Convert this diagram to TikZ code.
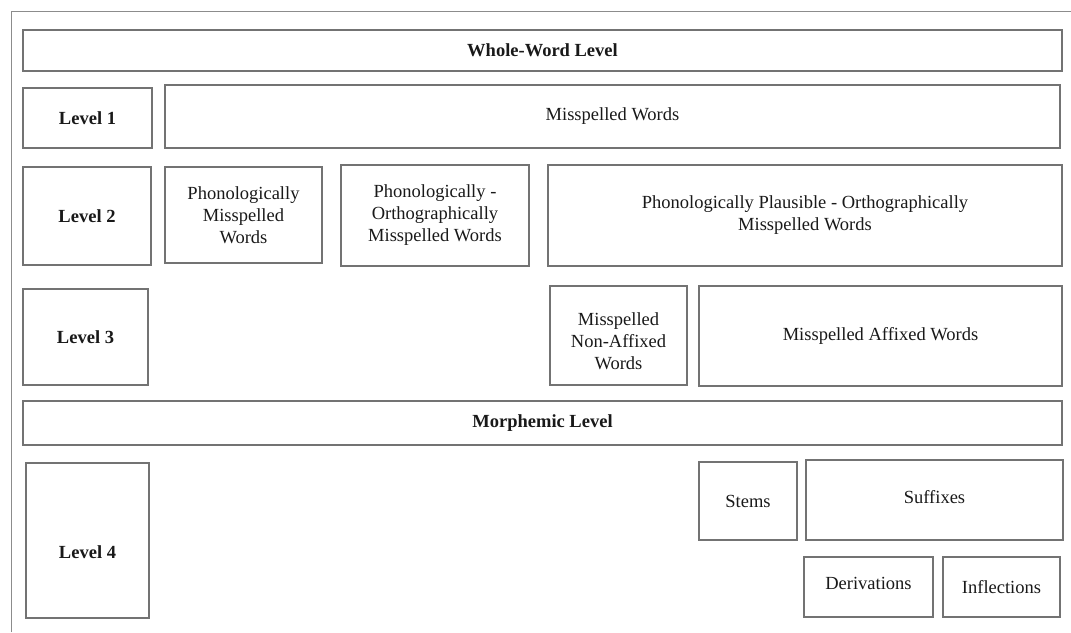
\documentclass[tikz,border=0pt]{standalone}
\usepackage{fontspec}
\setmainfont{Liberation Serif}
\begin{document}
\begin{tikzpicture}[x=1pt,y=-1pt,
  txtfont/.style={font=\fontsize{18.5}{22}\selectfont,text=black!90},
  box/.style={draw=black!55,line width=1.2pt,inner sep=0pt,align=center,txtfont},
  frame/.style={draw=black!45,line width=1pt}]
\useasboundingbox (0,0) rectangle (1071,632);
\draw[frame] (11,632) -- (11,11) -- (1071,11);
% row: whole word
\node[box,minimum width=1039,minimum height=41] (ww) at (542.5,50.5) {\textbf{Whole-Word Level}};
% level 1
\node[box,minimum width=129,minimum height=60] (l1) at (87.5,118) {\textbf{Level 1}};
\node[box,minimum width=895,minimum height=63] (mw) at (612.5,116.5) {Misspelled Words};
% level 2
\node[box,minimum width=128,minimum height=98] (l2) at (87,216) {\textbf{Level 2}};
\node[box,minimum width=157,minimum height=96] (pm) at (243.5,215) {Phonologically\\Misspelled\\Words};
\node[box,minimum width=188,minimum height=101] (pom) at (435,215.5) {Phonologically -\\Orthographically\\Misspelled Words};
\node[box,minimum width=514,minimum height=101] (ppo) at (805,215.5) {Phonologically Plausible - Orthographically\\Misspelled Words};
% level 3
\node[box,minimum width=125,minimum height=96] (l3) at (85.5,337) {\textbf{Level 3}};
\node[box,minimum width=137,minimum height=99,label={[txtfont,align=center,yshift=-6pt]center:Misspelled\\Non-Affixed\\Words}] (mna) at (618.5,335.5) {};
\node[box,minimum width=363,minimum height=100] (maw) at (880.5,336) {Misspelled Affixed Words};
% morphemic level
\node[box,minimum width=1039,minimum height=44] (ml) at (542.5,423) {\textbf{Morphemic Level}};
% level 4
\node[box,minimum width=123,minimum height=155,label={[txtfont,font=\fontsize{18.5}{22}\selectfont\bfseries,yshift=-12pt]center:Level 4}] (l4) at (87.5,540.5) {};
\node[box,minimum width=98,minimum height=78] (st) at (748,501) {Stems};
\node[box,minimum width=257,minimum height=80,label={[txtfont,yshift=3pt]center:Suffixes}] (su) at (934.5,500) {};
\node[box,minimum width=129,minimum height=60,label={[txtfont,yshift=4pt]center:Derivations}] (de) at (868.5,587) {};
\node[box,minimum width=117,minimum height=60] (in) at (1001.5,587) {Inflections};
\end{tikzpicture}
\end{document}
